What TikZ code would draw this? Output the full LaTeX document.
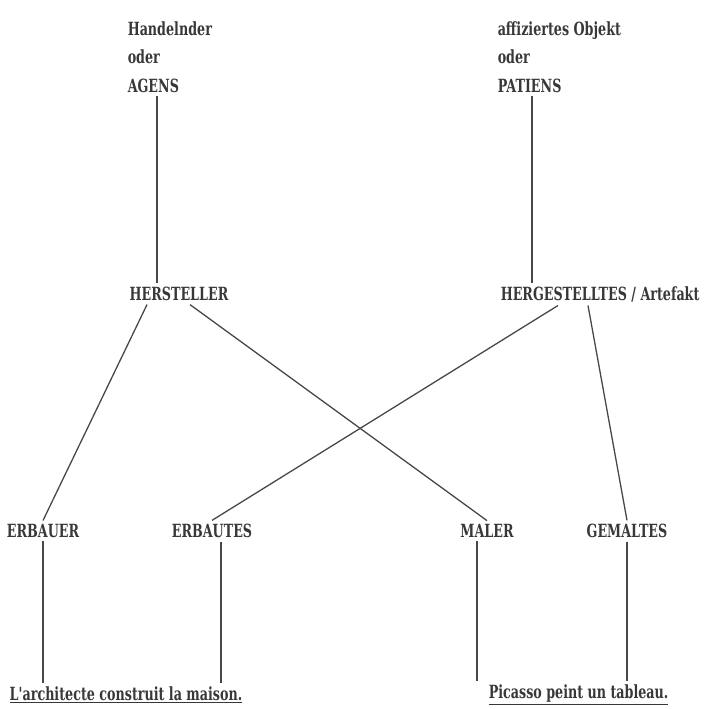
\documentclass[tikz,border=0pt]{standalone}
\usepackage{fontspec}
\newfontfamily\typew[FakeStretch=0.7]{DejaVu Serif}
\usetikzlibrary{positioning}

\begin{document}
\begin{tikzpicture}[x=0.03cm,y=-0.03cm,
    lbl/.style={inner sep=3pt,text=black!78,font=\typew\bfseries\fontsize{15.5}{24.3}\selectfont},
    ast/.style={draw=black!72,line width=1.1pt}]
                \useasboundingbox (0,0) rectangle (719,709);
                % oberste Ebene
                \node[lbl,anchor=west,align=left] (agens) at (124,57) {Handelnder\\oder\\AGENS};
                \node[lbl,anchor=west,align=left] (patiens) at (494,57) {affiziertes Objekt\\oder\\PATIENS};
                \node[lbl] (herst) at (179,294) {HERSTELLER};
                \node[lbl,anchor=west] (hergest) at (497,294) {HERGESTELLTES / Artefakt};
                \node[lbl] (erbauer) at (43,531) {ERBAUER};
                \node[lbl] (erbautes) at (212,531) {ERBAUTES};
                \node[lbl] (maler) at (487,531) {MALER};
                \node[lbl] (gemaltes) at (627,531) {GEMALTES};
                \node[lbl,anchor=west] (arch) at (6,695) {\underline{L'architecte construit la maison.}};
                \node[lbl,anchor=west] (picasso) at (485,695) {\underline{Picasso peint un tableau.}};
                % Verbindungen
                \draw[ast] ([xshift=-0.66cm]herst.north) -- ([xshift=-0.66cm]herst.north |- agens.south);
                \draw[ast] ([xshift=1.05cm]hergest.north west) -- ([xshift=1.05cm]hergest.north west |- patiens.south);
                \draw[ast] ([xshift=-0.96cm]herst.south) -- (erbauer.north);
                \draw[ast] ([xshift=0.33cm]herst.south) -- (maler.north);
                \draw[ast] ([xshift=1.83cm]hergest.south west) -- (erbautes.north);
                \draw[ast] ([xshift=2.73cm]hergest.south west) -- (gemaltes.north);
                \draw[ast] (erbauer.south) -- (erbauer.south |- arch.north);
                \draw[ast] ([xshift=0.27cm]erbautes.south) -- ([xshift=0.27cm]erbautes.south |- arch.north);
                \draw[ast] ([xshift=-0.3cm]maler.south) -- ([xshift=-0.3cm]maler.south |- picasso.north);
                \draw[ast] (gemaltes.south) -- (gemaltes.south |- picasso.north);
            \end{tikzpicture}
\end{document}
